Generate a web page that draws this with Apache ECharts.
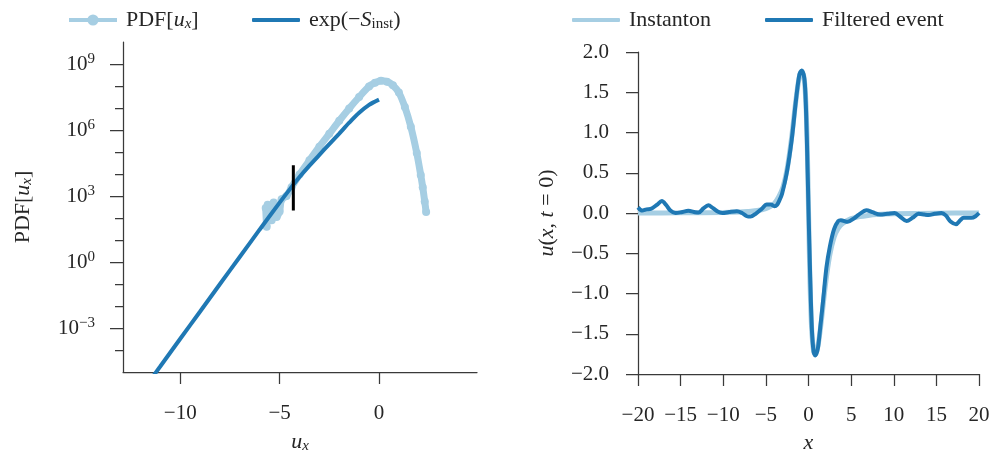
<!DOCTYPE html>
<html><head><meta charset="utf-8">
<script src="https://cdn.jsdelivr.net/npm/echarts@6/dist/echarts.min.js"></script>
<style>html,body{margin:0;padding:0;background:#fff}#c{width:994px;height:459px}</style>
</head><body><div id="c"></div>
<script>
// ---- Left panel: PDF of u_x (log scale) ----
const pdfU   = [-5.70,-5.65,-5.60,-5.50,-5.40,-5.30,-5.15,-5.00,-4.90,-4.65,-4.40,-4.00,-3.50,-3.00,-2.50,-2.00,-1.50,-1.00,-0.50,-0.20,0.10,0.40,0.70,1.00,1.30,1.60,1.90,2.10,2.20,2.30,2.37];
const pdfVal = [282,39.8,398,178,79.4,501,112,200,708,1000,2510,9550,4.17e4,1.74e5,6.76e5,2.63e6,9.55e6,3.16e7,9.55e7,1.41e8,1.74e8,1.58e8,1.07e8,5.01e7,1.12e7,1.41e6,8.91e4,8910,2510,562,186];
const expU   = [-11.5,-11,-10,-9,-8,-7,-6,-5,-4.5,-4,-3.5,-3,-2.5,-2,-1.5,-1,-0.5,0];
const expVal = [4.37e-6,1.82e-5,3.24e-4,5.62e-3,0.1,1.74,30.2,501,1950,7240,2.40e4,7.41e4,2.29e5,6.92e5,2.14e6,6.03e6,1.38e7,2.40e7];
const cutU   = [-4.31,-4.31];
const cutVal = [219,2.51e4];
const leftXTicks = [-10,-5,0];
const logMajor = [1e-3,1,1e3,1e6,1e9];
const logMinor = [1e-4,1e-3,1e-2,1e-1,1,1e1,1e2,1e3,1e4,1e5,1e6,1e7,1e8,1e9];
// ---- Right panel: u(x, t=0) ----
const eventX = [-20,-19.5,-19,-18.5,-17.8,-17.2,-16.7,-16.2,-15.6,-14.9,-14.1,-13.3,-12.9,-12.3,-11.75,-11.2,-10.6,-10.1,-9.3,-8.4,-7.8,-7.2,-6.8,-6.2,-5.5,-4.9,-4.4,-4.0,-3.7,-3.4,-3.1,-2.55,-1.97,-1.46,-1.07,-0.8,-0.5,-0.35,-0.2,0.0,0.2,0.4,0.6,0.8,1.1,1.4,1.7,2.1,2.5,3.0,3.5,3.8,4.6,5.3,5.9,6.8,7.5,8.4,9.3,10.1,10.8,11.5,12.2,12.9,13.6,14.1,14.8,15.6,16.1,16.7,17.3,17.8,18.2,19.1,19.6,20];
const eventU = [0.07,0.03,0.045,0.05,0.10,0.15,0.10,0.03,0.0,0.01,0.027,0.01,0.005,0.06,0.095,0.06,0.015,0.0,0.012,0.022,0.0,-0.04,-0.045,-0.01,0.05,0.105,0.105,0.085,0.10,0.16,0.24,0.50,0.91,1.41,1.72,1.77,1.68,1.45,0.95,0.05,-0.80,-1.45,-1.72,-1.77,-1.68,-1.40,-1.10,-0.68,-0.42,-0.20,-0.10,-0.09,-0.11,-0.07,-0.02,0.035,0.01,-0.02,-0.01,0.0,-0.05,-0.10,-0.06,-0.01,-0.02,-0.025,-0.01,0.0,-0.03,-0.11,-0.14,-0.09,-0.06,-0.06,-0.04,0.0];
const instX = [-20,-15,-10,-8,-7,-6,-5,-4.5,-4,-3.5,-3,-2.5,-2,-1.5,-1.1,-0.8,-0.5,-0.3,-0.15,0,0.15,0.35,0.6,0.8,1.1,1.5,2,2.5,3,3.5,4,5,6,7,8,10,15,20];
const instU = [0,0.002,0.006,0.012,0.02,0.03,0.055,0.08,0.12,0.2,0.32,0.55,0.92,1.38,1.68,1.76,1.66,1.35,0.85,0.05,-0.75,-1.4,-1.72,-1.76,-1.66,-1.35,-0.88,-0.52,-0.3,-0.19,-0.13,-0.07,-0.045,-0.03,-0.02,-0.01,-0.002,0];

const FF = 'Liberation Serif';
const TC = '#262626';
const AX = '#3a3a3a';
const LIGHT = '#a6cee3', DARK = '#1f78b4';
const minus = v => (v < 0 ? '\u2212' : '') + Math.abs(v);
const rich = {
  n: {fontFamily: FF, fontSize: 22, color: TC},
  i: {fontFamily: FF, fontSize: 22, color: TC, fontStyle: 'italic'},
  s: {fontFamily: FF, fontSize: 15, color: TC, fontStyle: 'italic', padding: [9,0,0,0]},
  su: {fontFamily: FF, fontSize: 15, color: TC, padding: [9,0,0,0]},
  b: {fontFamily: FF, fontSize: 21, color: TC},
  e: {fontFamily: FF, fontSize: 15, color: TC, padding: [0,0,9,0]}
};
const axisLine = {show: true, onZero: false, lineStyle: {color: AX, width: 1.25}};
const chart = echarts.init(document.getElementById('c'), null, {renderer: 'canvas'});
const textStyle = {fontFamily: FF, fontSize: 22, color: TC, padding: [0,0,0,4], rich};
const legendLine = {itemWidth: 48, itemHeight: 4, top: 4, icon: 'roundRect', textStyle};
chart.setOption({
  animation: false,
  backgroundColor: '#fff',
  textStyle: {fontFamily: FF},
  grid: [
    {left: 123, right: 517, top: 42, bottom: 84},
    {left: 638, right: 15, top: 52, bottom: 83}
  ],
  legend: [
    {left: 62, top: 4, itemWidth: 48, itemHeight: 14, data: ['pdf'], textStyle,
     lineStyle: {width: 4}, formatter: () => '{n|PDF[}{i|u}{s|x}{n|]}'},
    Object.assign({}, legendLine, {left: 247, data: ['exps'], formatter: () => '{n|exp(\u2212}{i|S}{su|inst}{n|)}'}),
    Object.assign({}, legendLine, {left: 567, data: ['Instanton']}),
    Object.assign({}, legendLine, {left: 760, data: ['Filtered event']})
  ],
  xAxis: [
    {gridIndex: 0, type: 'value', min: -12.88, max: 4.93,
     axisLine, splitLine: {show: false},
     axisTick: {show: true, length: 12, customValues: leftXTicks, lineStyle: {color: AX, width: 1.25}},
     axisLabel: {customValues: leftXTicks, margin: 31, fontFamily: FF, fontSize: 21, color: TC, formatter: minus},
     name: '{i|u}{s|x}', nameLocation: 'middle', nameGap: 58, nameTextStyle: {rich}},
    {gridIndex: 1, type: 'value', min: -20, max: 20, interval: 5,
     axisLine, splitLine: {show: false},
     axisTick: {show: true, length: 12, lineStyle: {color: AX, width: 1.25}},
     axisLabel: {margin: 31, fontFamily: FF, fontSize: 21, color: TC, formatter: minus, showMinLabel: true, showMaxLabel: true},
     name: '{i|x}', nameLocation: 'middle', nameGap: 58, nameTextStyle: {rich}}
  ],
  yAxis: [
    {gridIndex: 0, type: 'log', logBase: 10, min: 1e-5, max: 1e10, position: 'left',
     axisLine, splitLine: {show: false},
     axisTick: {show: true, length: 13, customValues: logMajor, lineStyle: {color: AX, width: 1.25}},
     axisLabel: {customValues: logMajor, margin: 28, rich,
       formatter: v => { const p = Math.round(Math.log10(v)); return '{b|10}{e|' + minus(p) + '}'; }},
     name: '{n|PDF[}{i|u}{s|x}{n|]}', nameLocation: 'middle', nameGap: 88, nameTextStyle: {rich}},
    {gridIndex: 0, type: 'log', logBase: 10, min: 1e-5, max: 1e10, position: 'left', offset: 0,
     axisLine: {show: false, onZero: false}, splitLine: {show: false},
     axisTick: {show: true, length: 8, customValues: logMinor, lineStyle: {color: AX, width: 1.25}},
     axisLabel: {show: false}},
    {gridIndex: 1, type: 'value', min: -2, max: 2, interval: 0.5, position: 'left',
     axisLine, splitLine: {show: false},
     axisTick: {show: true, length: 12, lineStyle: {color: AX, width: 1.25}},
     axisLabel: {margin: 29, fontFamily: FF, fontSize: 21, color: TC,
       formatter: v => (v < 0 ? '\u2212' : '') + Math.abs(v).toFixed(1)},
     name: '{i|u}{n|(}{i|x}{n|, }{i|t}{n| = 0)}', nameLocation: 'middle', nameGap: 80, nameTextStyle: {rich}}
  ],
  series: [
    {name: 'pdf', type: 'line', xAxisIndex: 0, yAxisIndex: 0, smooth: 0.3,
     data: pdfU.map((u, i) => [u, pdfVal[i]]),
     symbol: 'circle', symbolSize: 8, showSymbol: true,
     itemStyle: {color: LIGHT}, lineStyle: {color: LIGHT, width: 7}, z: 2},
    {name: 'exps', type: 'line', xAxisIndex: 0, yAxisIndex: 0, smooth: 0.3,
     data: expU.map((u, i) => [u, expVal[i]]),
     showSymbol: false, symbol: 'none',
     itemStyle: {color: DARK}, lineStyle: {color: DARK, width: 4}, z: 3},
    {name: 'cut', type: 'line', xAxisIndex: 0, yAxisIndex: 0,
     data: cutU.map((u, i) => [u, cutVal[i]]),
     showSymbol: false, symbol: 'none',
     lineStyle: {color: '#000', width: 3}, z: 4},
    {name: 'Instanton', type: 'line', xAxisIndex: 1, yAxisIndex: 2, smooth: 0.3,
     data: instX.map((x, i) => [x, instU[i]]),
     showSymbol: false, symbol: 'none',
     itemStyle: {color: LIGHT}, lineStyle: {color: LIGHT, width: 5}, z: 2},
    {name: 'Filtered event', type: 'line', xAxisIndex: 1, yAxisIndex: 2, smooth: 0.3,
     data: eventX.map((x, i) => [x, eventU[i]]),
     showSymbol: false, symbol: 'none',
     itemStyle: {color: DARK}, lineStyle: {color: DARK, width: 4}, z: 3}
  ]
});
</script>
</body></html>
